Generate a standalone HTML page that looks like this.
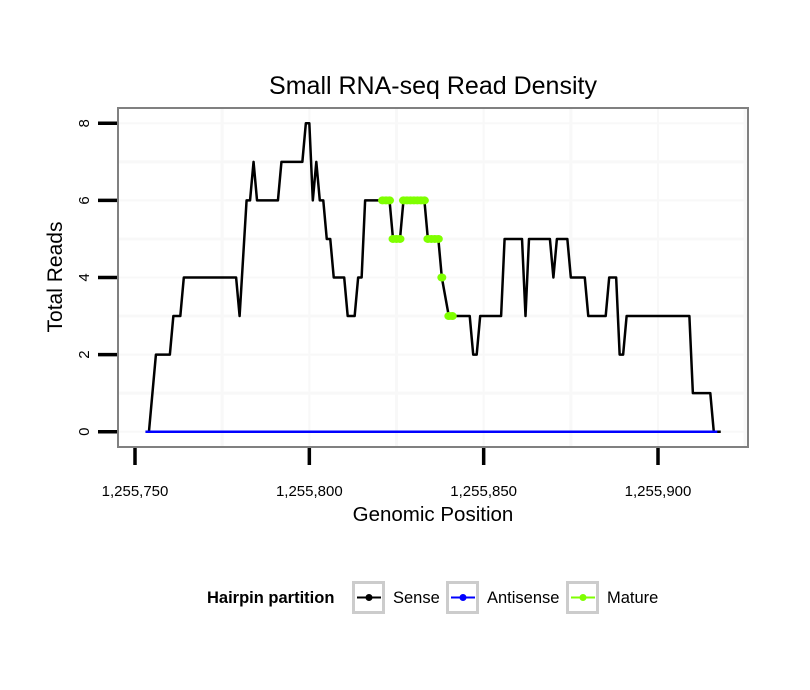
<!DOCTYPE html>
<html><head><meta charset="utf-8"><style>
body{margin:0;background:#fff;}
svg{display:block;font-family:"Liberation Sans",sans-serif;}
</style></head><body>
<svg id="chart" width="810" height="690" viewBox="0 0 810 690">
<rect x="0" y="0" width="810" height="690" fill="#fff"/>
<text x="433" y="94" font-size="25" text-anchor="middle">Small RNA-seq Read Density</text>
<g id="grid"></g>
<g id="series"></g>
<rect x="118" y="108" width="630" height="339" fill="none" stroke="#808080" stroke-width="2"/>
<g id="axes"></g>
<text x="433" y="521" font-size="20.5" text-anchor="middle">Genomic Position</text>
<text transform="translate(62,277) rotate(-90)" font-size="21" text-anchor="middle">Total Reads</text>
<g>
<text x="207" y="603" font-size="16.5" font-weight="bold">Hairpin partition</text>
<g>
<rect x="353.5" y="582.5" width="30" height="30" fill="#fff" stroke="#ccc" stroke-width="3"/>
<line x1="357" y1="597.5" x2="381" y2="597.5" stroke="#000" stroke-width="2"/><circle cx="369" cy="597.5" r="3.5" fill="#000"/>
<text x="393" y="603" font-size="16.5">Sense</text></g>
<g>
<rect x="447.5" y="582.5" width="30" height="30" fill="#fff" stroke="#ccc" stroke-width="3"/>
<line x1="451" y1="597.5" x2="475" y2="597.5" stroke="#0000ff" stroke-width="2"/><circle cx="463" cy="597.5" r="3.5" fill="#0000ff"/>
<text x="487" y="603" font-size="16.5">Antisense</text></g>
<g>
<rect x="567.5" y="582.5" width="30" height="30" fill="#fff" stroke="#ccc" stroke-width="3"/>
<line x1="571" y1="597.5" x2="595" y2="597.5" stroke="#7fff00" stroke-width="2"/><circle cx="583" cy="597.5" r="3.5" fill="#7fff00"/>
<text x="607" y="603" font-size="16.5">Mature</text></g>
</g>
</svg>
<script>
const senseX=[1255753,1255754,1255756,1255760,1255761,1255763,1255764,1255779,1255780,1255782,1255783,1255784,1255785,1255791,1255792,1255798,1255799,1255800,1255801,1255802,1255803,1255804,1255805,1255806,1255807,1255810,1255811,1255813,1255814,1255815,1255816,1255823,1255824,1255826,1255827,1255833,1255834,1255837,1255838,1255840,1255846,1255847,1255848,1255849,1255855,1255856,1255861,1255862,1255863,1255869,1255870,1255871,1255874,1255875,1255879,1255880,1255885,1255886,1255888,1255889,1255890,1255891,1255909,1255910,1255915,1255916,1255918];
const senseY=[0,0,2,2,3,3,4,4,3,6,6,7,6,6,7,7,8,8,6,7,6,6,5,5,4,4,3,3,4,4,6,6,5,5,6,6,5,5,4,3,3,2,2,3,3,5,5,3,5,5,4,5,5,4,4,3,3,4,4,2,2,3,3,1,1,0,0];
const antiX=[1255753,1255917];
const antiY=[0,0];
const matureX=[1255821,1255822,1255823,1255824,1255825,1255826,1255827,1255828,1255829,1255830,1255831,1255832,1255833,1255834,1255835,1255836,1255837,1255838,1255840,1255841];
const matureY=[6,6,6,5,5,5,6,6,6,6,6,6,6,5,5,5,5,4,3,3];
const xTicks=[1255750,1255800,1255850,1255900];
const xTickLabels=["1,255,750","1,255,800","1,255,850","1,255,900"];
const yTicks=[0,2,4,6,8];
const yTickLabels=["0","2","4","6","8"];

const NS="http://www.w3.org/2000/svg";
const sx=v=>135+(v-1255750)*(658-135)/150;
const sy=v=>431.7-v*(431.7-123.3)/8;
function mk(tag,attrs,parent){const e=document.createElementNS(NS,tag);for(const k in attrs)e.setAttribute(k,attrs[k]);parent.appendChild(e);return e;}
const grid=document.getElementById('grid'),series=document.getElementById('series'),axes=document.getElementById('axes');
for(let v=1255775;v<=1255925;v+=25){if(sx(v)<120||sx(v)>746)continue;
 const l=mk('line',{x1:sx(v),x2:sx(v),y1:109,y2:446,stroke:'#f8f8f8','stroke-width':(v%50===0)?2:3},grid);
 }
for(let v=0;v<=8;v++){
 const l=mk('line',{x1:119,x2:747,y1:sy(v),y2:sy(v),stroke:'#f8f8f8','stroke-width':(v%2===0)?2:3},grid);
 }
function poly(xs,ys,color,name){
 const p=mk('polyline',{points:xs.map((x,i)=>sx(x)+','+sy(ys[i])).join(' '),fill:'none',stroke:color,'stroke-width':2.5,'stroke-linejoin':'round'},series);
 }
poly(senseX,senseY,'#000','sense-line');
poly(antiX,antiY,'#0000ff','antisense-line');
matureX.forEach((x,i)=>{const c=mk('ellipse',{cx:sx(x),cy:sy(matureY[i]),rx:4.5,ry:4,fill:'#7fff00'},series);
 });
xTicks.forEach((v,i)=>{
 const l=mk('line',{x1:sx(v),x2:sx(v),y1:448,y2:465,stroke:'#000','stroke-width':3.5},axes);
 
 const t=mk('text',{x:sx(v),y:496,'font-size':15,'text-anchor':'middle'},axes);t.textContent=xTickLabels[i];
 });
yTicks.forEach((v,i)=>{
 const l=mk('line',{x1:98,x2:117,y1:sy(v),y2:sy(v),stroke:'#000','stroke-width':3.5},axes);
 
 const t=mk('text',{transform:'translate(89,'+sy(v)+') rotate(-90)','font-size':15,'text-anchor':'middle'},axes);t.textContent=yTickLabels[i];
 });
</script>
</body></html>
